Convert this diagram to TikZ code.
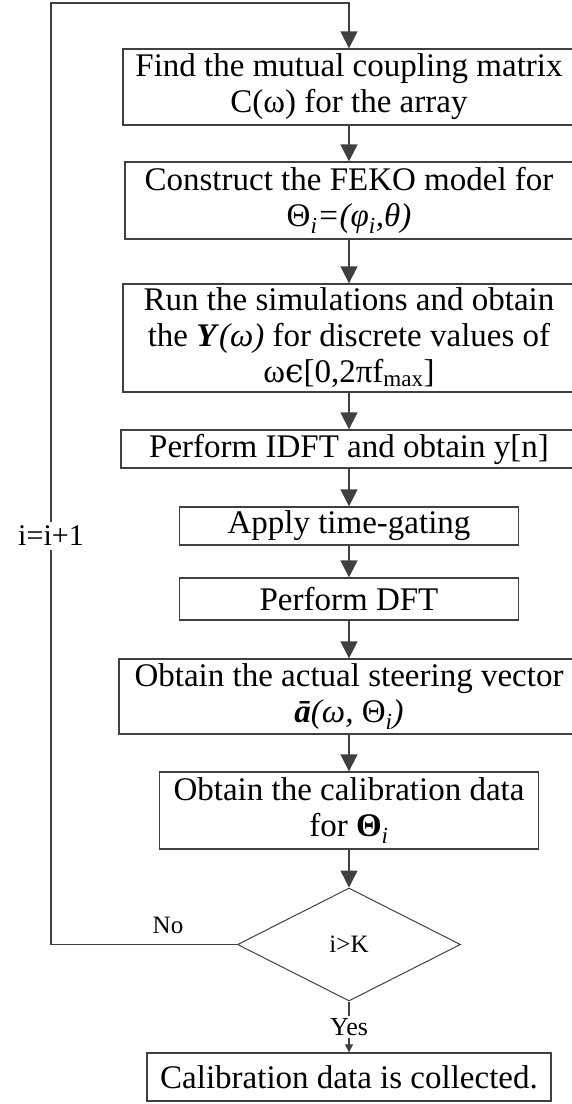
\documentclass[tikz,border=0pt]{standalone}
\usepackage{fontspec}
\setmainfont{Liberation Serif}
\newfontfamily\dvs{DejaVu Serif}
\usetikzlibrary{arrows.meta,shapes.geometric}
\definecolor{linec}{rgb}{0.25,0.25,0.25}
\begin{document}
\begin{tikzpicture}[x=1pt,y=-1pt,
  box/.style={draw=linec, line width=1.3pt, inner sep=0pt, align=center,
    font=\fontsize{33}{36}\selectfont, text=black},
  arr/.style={draw=linec, line width=1.3pt, -{Triangle[width=17pt,length=17pt]}},
  arrsmall/.style={draw=linec, line width=1.3pt, -{Triangle[width=8pt,length=8pt]}},
  lbl/.style={inner sep=2pt, text=black}]
\useasboundingbox (0,0) rectangle (571,1104);
\node[box, minimum width=452pt, minimum height=76pt] (b1) at (349,87)
  {Find the mutual coupling matrix\\C(ω) for the array};
\node[box, minimum width=448pt, minimum height=77pt] (b2) at (349,200.5)
  {Construct the FEKO model for\\Θ\textsubscript{\textit{i}}\textit{=(φ\textsubscript{i},θ)}};
\node[box, minimum width=452pt, minimum height=108pt] (b3) at (349,338)
  {Run the simulations and obtain\\the \textbf{\textit{Y}}\textit{(ω)} for discrete values of\\ω{\dvs ϵ}[0,2πf\textsubscript{max}]};
\node[box, minimum width=456pt, minimum height=38pt] (b4) at (349,449)
  {Perform IDFT and obtain y[n]};
\node[box, minimum width=339pt, minimum height=38pt] (b5) at (349,526)
  {Apply time-gating};
\node[box, minimum width=339pt, minimum height=42pt] (b6) at (349,599)
  {Perform DFT};
\node[box, minimum width=460pt, minimum height=75pt] (b7) at (349,696.5)
  {Obtain the actual steering vector\\\textbf{\textit{ā}}\textit{(ω, }Θ\textsubscript{\textit{i}}\textit{)}};
\node[box, minimum width=379pt, minimum height=77pt] (b8) at (349,810.5)
  {Obtain the calibration data\\for \textbf{Θ}\textsubscript{\textit{i}}};
\node[draw=linec, line width=1pt, diamond, aspect=1.97, inner sep=0pt,
  minimum width=223pt, minimum height=113pt, font=\fontsize{25}{28}\selectfont] (d) at (349,944.5) {i>K};
\node[box, minimum width=404pt, minimum height=48pt] (f) at (349,1077)
  {Calibration data is collected.};
\coordinate (lb) at (51,944.5);
\coordinate (lt) at (51,3);
\coordinate (rt) at (349,3);
\draw[arr] (b1) -- (b2);
\draw[arr] (b2) -- (b3);
\draw[arr] (b3) -- (b4);
\draw[arr] (b4) -- (b5);
\draw[arr] (b5) -- (b6);
\draw[arr] (b6) -- (b7);
\draw[arr] (b7) -- (b8);
\draw[arr] (b8) -- (d);
\draw[arrsmall] (d.south) -- node[lbl, fill=white, font=\fontsize{26}{28}\selectfont] {Yes} (f.north);
\draw[arr] (d.west) -- (lb) -- (lt) -- (rt) -- (b1.north);
\node[lbl, fill=white, inner sep=4pt, font=\fontsize{30}{32}\selectfont] (inc) at (51,536) {i=i+1};
\node[lbl, font=\fontsize{25}{28}\selectfont] (no) at (168,925) {No};
\end{tikzpicture}
\end{document}
